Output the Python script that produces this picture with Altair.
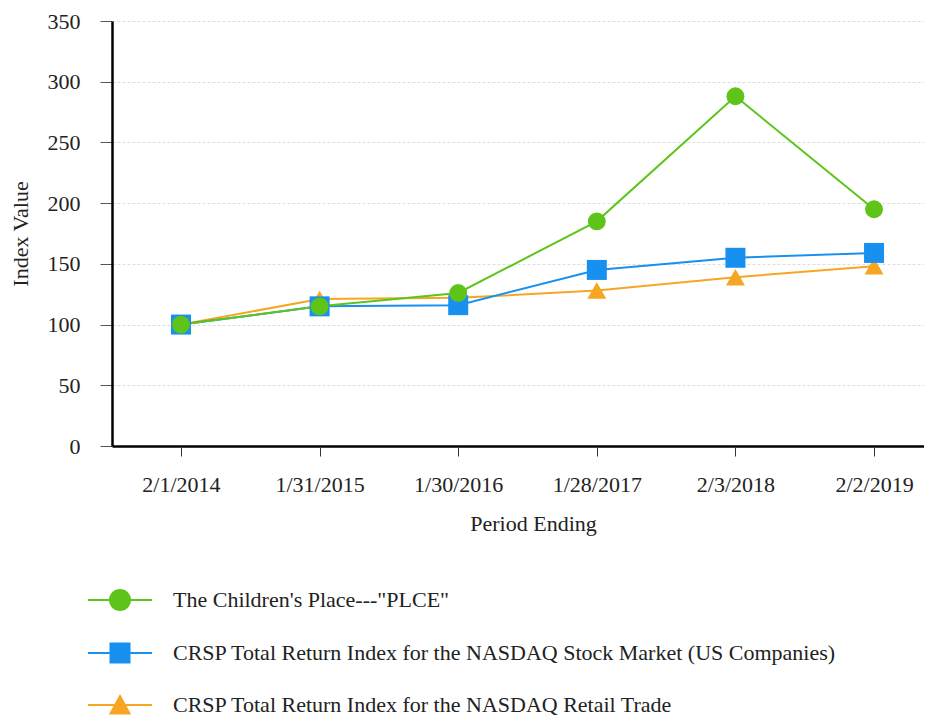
import altair as alt
import pandas as pd

periods = ["2/1/2014", "1/31/2015", "1/30/2016", "1/28/2017", "2/3/2018", "2/2/2019"]
series = [
    'The Children\'s Place---"PLCE"',
    "CRSP Total Return Index for the NASDAQ Stock Market (US Companies)",
    "CRSP Total Return Index for the NASDAQ Retail Trade",
]
plce = [100, 115, 126, 185, 288, 195]
nasdaq = [100, 115, 116, 145, 155, 159]
retail = [100, 121, 122, 128, 139, 148]
colors = ["#5ec41a", "#1790f0", "#f6a623"]
shapes = ["circle", "square", "triangle-up"]
sizes = [320, 400, 360]
legend_paths = [
    "M-3.2,0H3.2M1,0A1,1,0,1,1,-1,0A1,1,0,1,1,1,0Z",
    "M-3.2,0H3.2M-0.95,-0.95H0.95V0.95H-0.95Z",
    "M-3.2,0H3.2M0,-0.9L0.95,0.85H-0.95Z",
]

values = [plce, nasdaq, retail]
rows = []
# draw order: retail, nasdaq, plce (plce on top)
for idx in [2, 1, 0]:
    for p, v in zip(periods, values[idx]):
        rows.append({"period": p, "value": v, "series": series[idx]})
df = pd.DataFrame(rows)

FONT = "Liberation Serif"

x_enc = alt.X(
    "period:N",
    sort=periods,
    scale=alt.Scale(type="point", domain=periods, padding=0.429, align=0.58),
    axis=alt.Axis(
        title="Period Ending",
        labelAngle=0,
        domain=False,
        tickColor="#333333",
        tickSize=10,
        labelPadding=18,
        titlePadding=18,
        titleX=421,
        labelFontSize=22,
        titleFontSize=22,
        labelFont=FONT,
        titleFont=FONT,
        titleFontWeight="normal",
        labelColor="#222222",
        titleColor="#222222",
        grid=False,
    ),
)
y_enc = alt.Y(
    "value:Q",
    scale=alt.Scale(domain=[0, 350], nice=False, zero=True),
    axis=alt.Axis(
        title="Index Value",
        values=[0, 50, 100, 150, 200, 250, 300, 350],
        domainColor="#000000",
        domainWidth=2.5,
        tickColor="#555555",
        tickSize=12,
        labelPadding=20,
        titlePadding=15,
        labelFontSize=22,
        titleFontSize=22,
        labelFont=FONT,
        titleFont=FONT,
        titleFontWeight="normal",
        labelColor="#222222",
        titleColor="#222222",
        gridColor={"condition": {"test": "datum.value === 0", "value": "#000000"}, "value": "#dddddd"},
        gridWidth={"condition": {"test": "datum.value === 0", "value": 2.5}, "value": 1.2},
        gridDash={"condition": {"test": "datum.value === 0", "value": []}, "value": [3, 2]},
    ),
)

legend_props = dict(
    title=None,
    orient="none",
    legendX=-3,
    legendY=568,
    direction="vertical",
    symbolSize=400,
    symbolStrokeWidth=2,
    symbolOpacity=1,
    labelOffset=42,
    rowPadding=25,
    labelFont=FONT,
    labelFontSize=22,
    labelColor="#222222",
    labelLimit=900,
    padding=0,
)

color_scale = alt.Scale(domain=series, range=colors)
color_enc = alt.Color("series:N", scale=color_scale, legend=alt.Legend(**legend_props))

lines = alt.Chart(df).mark_line(strokeWidth=2).encode(
    x=x_enc,
    y=y_enc,
    color=color_enc,
    detail="series:N",
)

point_layers = []
for idx in [2, 1, 0]:
    point_layers.append(
        alt.Chart(df)
        .transform_filter(alt.datum.series == series[idx])
        .mark_point(filled=True, opacity=1, shape=shapes[idx], size=sizes[idx])
        .encode(
            x=x_enc,
            y=y_enc,
            color=color_enc,
        )
    )

legend_layer = (
    alt.Chart(df)
    .mark_point(filled=True, strokeWidth=2, opacity=0)
    .encode(
        x=x_enc,
        y=y_enc,
        color=color_enc,
        stroke=alt.Stroke("series:N", scale=alt.Scale(domain=series, range=colors), legend=alt.Legend(**legend_props)),
        shape=alt.Shape("series:N", scale=alt.Scale(domain=series, range=legend_paths), legend=alt.Legend(**legend_props)),
    )
)

chart = (
    alt.layer(lines, *point_layers, legend_layer)
    .properties(
        width=812,
        height=425,
        autosize="none",
        padding={"left": 104, "top": 13, "right": 0, "bottom": 274},
        background="white",
    )
    .configure_view(stroke=None)
)

chart.save("out.html", embed_options={"renderer": "svg", "actions": False})
